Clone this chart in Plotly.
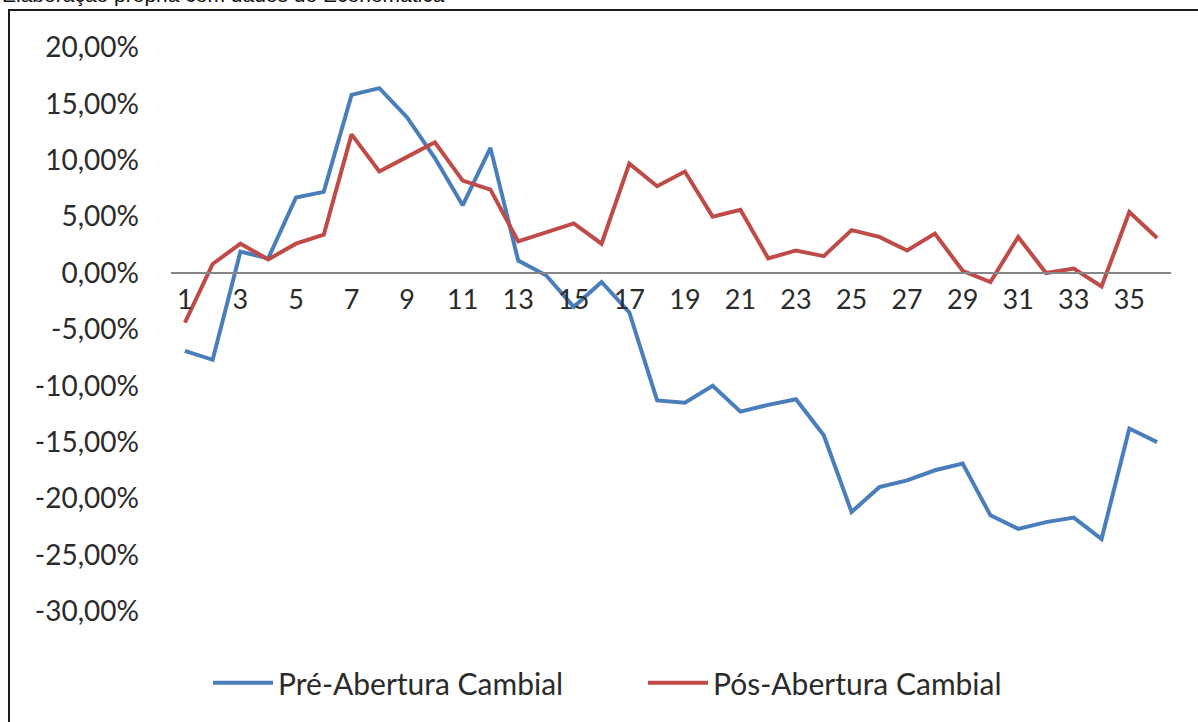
import plotly.graph_objects as go

# period index (months) and returns
periods = list(range(1, 37))

pre_abertura = [
    -0.069, -0.077, 0.019, 0.013, 0.067, 0.072, 0.158, 0.164, 0.138, 0.102,
    0.060, 0.111, 0.011, -0.002, -0.030, -0.008, -0.035, -0.113, -0.115, -0.100,
    -0.123, -0.117, -0.112, -0.144, -0.212, -0.190, -0.184, -0.175, -0.169, -0.215,
    -0.227, -0.221, -0.217, -0.236, -0.138, -0.150,
]

pos_abertura = [
    -0.044, 0.008, 0.026, 0.012, 0.026, 0.034, 0.123, 0.090, 0.103, 0.116,
    0.082, 0.074, 0.028, 0.036, 0.044, 0.026, 0.097, 0.077, 0.090, 0.050,
    0.056, 0.013, 0.020, 0.015, 0.038, 0.032, 0.020, 0.035, 0.002, -0.008,
    0.032, 0.000, 0.004, -0.012, 0.054, 0.031,
]

y_ticks = [0.20, 0.15, 0.10, 0.05, 0.0, -0.05, -0.10, -0.15, -0.20, -0.25, -0.30]
y_labels = [f"{v * 100:.2f}%".replace(".", ",") for v in y_ticks]
x_ticks = list(range(1, 36, 2))

BLUE = "#4a7ebb"
RED = "#be4b48"
FONT = "Lato, 'Open Sans', sans-serif"

fig = go.Figure()
fig.add_trace(
    go.Scatter(
        x=periods,
        y=pre_abertura,
        mode="lines",
        name="Pré-Abertura Cambial",
        line=dict(color=BLUE, width=4),
    )
)
fig.add_trace(
    go.Scatter(
        x=periods,
        y=pos_abertura,
        mode="lines",
        name="Pós-Abertura Cambial",
        line=dict(color=RED, width=4),
    )
)

# x axis crosses at 0, like the spreadsheet original
y_lo, y_hi = -0.33, 0.22
zero_pos = (0 - y_lo) / (y_hi - y_lo)

fig.update_layout(
    width=1198,
    height=722,
    margin=dict(l=171, r=27, t=25, b=77),
    paper_bgcolor="white",
    plot_bgcolor="white",
    font=dict(family=FONT, size=28, color="#2b2b2b"),
    showlegend=True,
    legend=dict(
        orientation="h",
        x=0.472,
        xanchor="center",
        y=-0.061,
        yanchor="middle",
        font=dict(family=FONT, size=30, color="#2b2b2b"),
        itemwidth=60,
        entrywidth=360,
        entrywidthmode="pixels",
        bgcolor="rgba(0,0,0,0)",
    ),
    xaxis=dict(
        range=[0.5, 36.5],
        tickvals=x_ticks,
        ticktext=[str(t) for t in x_ticks],
        tickfont=dict(size=27),
        anchor="free",
        position=zero_pos,
        showline=True,
        linecolor="#868686",
        linewidth=1.5,
        showgrid=False,
        zeroline=False,
        ticks="",
        ticklabelstandoff=3,
    ),
    yaxis=dict(
        range=[y_lo, y_hi],
        tickvals=y_ticks,
        ticktext=y_labels,
        showgrid=False,
        zeroline=False,
        showline=False,
        ticks="",
        ticklabelstandoff=31,
    ),
    shapes=[
        dict(
            type="rect",
            xref="paper",
            yref="paper",
            x0=-0.162,
            x1=1.05,
            y0=-0.2,
            y1=(645 - 10) / 620,
            line=dict(color="#1a1a1a", width=2),
            fillcolor="rgba(0,0,0,0)",
            layer="below",
        )
    ],
    annotations=[
        dict(
            text="Elaboração própria com dados do Economatica",
            xref="paper",
            yref="paper",
            x=-0.171,
            xanchor="left",
            y=(645 - 8) / 620,
            yanchor="bottom",
            showarrow=False,
            font=dict(family="Liberation Sans, Arial, sans-serif", size=21, color="#111111"),
        )
    ],
)

# page has a default 8px body margin; drop it so the figure sits at the corner
fig.write_html(
    "out.html",
    config={"displayModeBar": False},
    post_script="document.body.style.margin='0px';",
)
